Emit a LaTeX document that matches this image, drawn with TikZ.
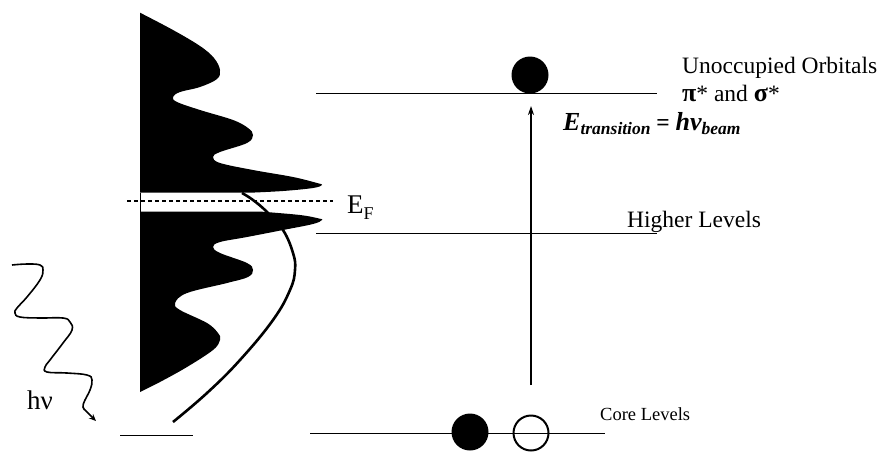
\documentclass[tikz,border=0pt]{standalone}
\usepackage{fontspec}
\setmainfont{Liberation Serif}
\usetikzlibrary{arrows.meta}
\tikzset{
  level/.style={line width=0.9pt},
  lbl/.style={anchor=base west, inner sep=0pt, font=\fontsize{23.5}{26}\selectfont},
  biglbl/.style={anchor=base west, inner sep=0pt, font=\fontsize{27}{30}\selectfont},
  smalllbl/.style={anchor=base west, inner sep=0pt, font=\fontsize{18.5}{21}\selectfont},
  dos/.style={fill=black},
  occ/.style={line width=2.6pt},
  photon/.style={line width=1.6pt, -{Stealth[length=7pt,width=6pt]}},
  excite/.style={line width=1.6pt, -{Stealth[length=9pt,width=6pt]}},
  electron/.style={fill=black},
  hole/.style={draw=black, line width=2pt, fill=white}
}
\begin{document}
\begin{tikzpicture}[x=1pt,y=-1pt]
\useasboundingbox (0,0) rectangle (882,451);
% density of states (upper part)
\fill[dos] (140,12.7) -- plot[smooth, tension=0.6] coordinates {(140,12.7) (173,30) (200,46) (214,58) (220,70) (217,79) (200,87) (180,92) (173,97) (177,102) (200,110) (233,120) (248,128) (253,135) (247,143) (220,152) (213,157) (220,163) (253,170) (293,177) (317,183) (322,185) (313,188) (283,191) (250,192.7)} -- (140,192.7) -- cycle;
% density of states (lower part)
\fill[dos] (140,211.7) -- (262,211.7) -- plot[smooth, tension=0.6] coordinates {(262,211.7) (300,215) (319,218.5) (322,220) (313,224) (283,230) (247,237) (220,242) (213,247) (220,253) (247,263) (253,270) (248,277) (227,283) (187,293) (175,303) (180,310) (207,323) (218,333) (220,340) (213,350) (187,367) (160,382) (140,392)} -- cycle;
\draw[line width=0.6pt] (140,192.7) -- (140,211.7);
% Fermi level
\draw[line width=1.1pt, dash pattern=on 4pt off 3pt] (127,201) -- (333,201);
% occupation curve
\draw[occ] plot[smooth, tension=0.7] coordinates {(242,193) (253,200) (267,212) (283,230) (293,253) (295,270) (290,290) (273,320) (240,360) (207,393) (173,422)};
% incoming photon
\draw[photon] plot[smooth, tension=0.7] coordinates {(12,265) (27,264) (40,265) (43,270) (40,280) (27,297) (17,308) (15,313) (20,317) (40,318) (63,318) (70,322) (72,330) (63,343) (50,360) (45,367) (47,372) (67,373) (87,375) (92,380) (90,390) (85,400) (83,407) (87,412) (96,421)};
% energy levels
\coordinate (lvlcoreleft) at (120,435);
\coordinate (lvlcoreleftend) at (193,435);
\draw[level] (lvlcoreleft) -- (lvlcoreleftend);
\coordinate (unoccA) at (316,93);
\coordinate (unoccB) at (657,93);
\coordinate (higherA) at (316,233);
\coordinate (higherB) at (657,233);
\coordinate (coreA) at (310,433);
\coordinate (coreB) at (605,433);
\draw[level] (unoccA) -- (unoccB);
\draw[level] (higherA) -- (higherB);
\draw[level] (coreA) -- (coreB);
% electrons and hole
\fill[electron] (530,75) circle (18.5);
\fill[electron] (470,432) circle (18.5);
\draw[hole] (531,433) circle (17.5);
\draw[level] (512,433) -- (550,433);
% transition arrow
\coordinate (arrbot) at (531,385);
\coordinate (arrtop) at (531,106);
\draw[excite] (arrbot) -- (arrtop);
% labels
\node[lbl] (unocc) at (682,73) {Unoccupied Orbitals};
\node[lbl] (pisig) at (682,101) {{\fontsize{26}{28}\selectfont\textbf{π}}* and {\fontsize{26}{28}\selectfont\textbf{σ}}*};
\node[lbl] (etrans) at (563,130) {{\fontsize{26}{28}\selectfont\bfseries\itshape E}\raisebox{-0.4ex}{\fontsize{17.5}{18}\selectfont\bfseries\itshape transition} {\bfseries =} {\fontsize{26}{28}\selectfont\bfseries\itshape hν}\raisebox{-0.4ex}{\fontsize{17.5}{18}\selectfont\bfseries\itshape beam}};
\node[lbl] (higher) at (627,227) {Higher Levels};
\node[smalllbl] (corelbl) at (600,420) {Core Levels};
\node[biglbl] (ef) at (347,213) {E\raisebox{-0.5ex}{\fontsize{18}{19}\selectfont F}};
\node[biglbl] (hnu) at (27,409) {hν};
\end{tikzpicture}
\end{document}
